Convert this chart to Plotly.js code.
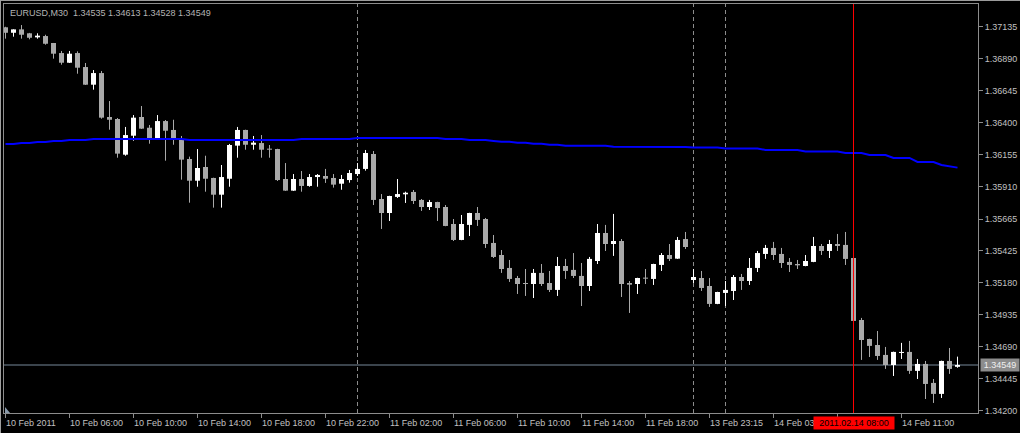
<!DOCTYPE html>
<html>
<head>
<meta charset="utf-8">
<script src="https://cdn.plot.ly/plotly-3.0.1.min.js"></script>
<style>html,body{margin:0;padding:0;background:#000;}#chart{width:1020px;height:433px;}</style>
</head>
<body>
<div id="chart"></div>
<script>
const symbolTitle = "EURUSD,M30  1.34535 1.34613 1.34528 1.34549";

const openP = [1.37131,1.37089,1.37115,1.37085,1.37054,1.37064,1.37011,1.36934,1.36860,1.36934,
1.36827,1.36692,1.36781,1.36445,1.36430,1.36157,1.36302,1.36445,1.36363,1.36279,
1.36414,1.36346,1.36272,1.36124,1.35958,1.36063,1.35979,1.35851,1.35973,1.36226,
1.36346,1.36233,1.36246,1.36203,1.36200,1.35971,1.35882,1.35971,1.35918,1.35986,
1.35994,1.35979,1.35935,1.35963,1.36009,1.36048,1.36162,1.35818,1.35711,1.35834,
1.35854,1.35872,1.35811,1.35757,1.35795,1.35757,1.35627,1.35505,1.35620,1.35711,
1.35665,1.35482,1.35390,1.35291,1.35214,1.35176,1.35168,1.35253,1.35176,1.35123,
1.35306,1.35276,1.35230,1.35153,1.35344,1.35558,1.35474,1.35497,1.35176,1.35168,
1.35217,1.35207,1.35314,1.35390,1.35362,1.35512,1.35199,1.35214,1.35153,1.35016,
1.35100,1.35115,1.35222,1.35191,1.35291,1.35398,1.35444,1.35398,1.35337,1.35321,
1.35306,1.35337,1.35459,1.35421,1.35474,1.35467,1.35367,1.34893,1.34748,1.34702,
1.34626,1.34549,1.34641,1.34649,1.34504,1.34557,1.34412,1.34328,1.34580,1.34535];

const highP = [1.37135,1.37115,1.37148,1.37088,1.37085,1.37074,1.37011,1.36950,1.36950,1.36947,
1.36858,1.36804,1.36797,1.36567,1.36437,1.36369,1.36460,1.36529,1.36384,1.36460,
1.36422,1.36424,1.36300,1.36142,1.36200,1.36149,1.35981,1.36078,1.36239,1.36369,
1.36348,1.36300,1.36307,1.36231,1.36202,1.36093,1.36009,1.36032,1.36009,1.36009,
1.36048,1.36009,1.36002,1.36040,1.36093,1.36193,1.36185,1.35856,1.35843,1.35971,
1.35874,1.35887,1.35818,1.35811,1.35797,1.35772,1.35665,1.35696,1.35713,1.35757,
1.35673,1.35543,1.35428,1.35352,1.35230,1.35283,1.35283,1.35321,1.35268,1.35375,
1.35360,1.35405,1.35329,1.35375,1.35627,1.35620,1.35704,1.35512,1.35191,1.35216,
1.35283,1.35323,1.35405,1.35474,1.35528,1.35566,1.35283,1.35268,1.35214,1.35109,
1.35191,1.35237,1.35245,1.35367,1.35421,1.35467,1.35490,1.35444,1.35367,1.35352,
1.35390,1.35528,1.35474,1.35505,1.35551,1.35566,1.35369,1.34909,1.34750,1.34809,
1.34687,1.34651,1.34718,1.34733,1.34595,1.34580,1.34442,1.34582,1.34679,1.34613];

const lowP = [1.37044,1.37059,1.37044,1.37039,1.37044,1.36998,1.36891,1.36845,1.36858,1.36776,
1.36690,1.36654,1.36432,1.36348,1.36134,1.36149,1.36264,1.36354,1.36241,1.36277,
1.36111,1.36233,1.35966,1.35790,1.35912,1.35874,1.35752,1.35752,1.35912,1.36134,
1.36195,1.36195,1.36134,1.36134,1.35956,1.35880,1.35880,1.35874,1.35912,1.35912,
1.35941,1.35905,1.35889,1.35943,1.35994,1.36035,1.35772,1.35589,1.35650,1.35826,
1.35788,1.35780,1.35727,1.35734,1.35650,1.35610,1.35497,1.35503,1.35535,1.35612,
1.35444,1.35367,1.35253,1.35184,1.35092,1.35077,1.35061,1.35153,1.35107,1.35077,
1.35207,1.35214,1.35000,1.35115,1.35321,1.35421,1.35383,1.35069,1.34947,1.35092,
1.35168,1.35161,1.35268,1.35344,1.35360,1.35436,1.35176,1.35115,1.34993,1.35014,
1.35000,1.35046,1.35123,1.35161,1.35260,1.35360,1.35352,1.35291,1.35260,1.35283,
1.35304,1.35335,1.35390,1.35367,1.35421,1.35314,1.34884,1.34588,1.34610,1.34588,
1.34519,1.34465,1.34595,1.34481,1.34442,1.34289,1.34259,1.34297,1.34481,1.34528];

const closeP = [1.37089,1.37115,1.37074,1.37051,1.37067,1.37005,1.36929,1.36860,1.36929,1.36822,
1.36692,1.36781,1.36440,1.36424,1.36165,1.36307,1.36440,1.36356,1.36279,1.36414,
1.36340,1.36279,1.36119,1.35958,1.36055,1.35973,1.35851,1.35986,1.36231,1.36346,
1.36233,1.36249,1.36195,1.36195,1.35963,1.35882,1.35971,1.35918,1.35986,1.36002,
1.35973,1.35928,1.35971,1.36017,1.36048,1.36170,1.35811,1.35711,1.35841,1.35856,
1.35866,1.35803,1.35757,1.35795,1.35749,1.35612,1.35505,1.35627,1.35711,1.35658,
1.35474,1.35375,1.35283,1.35207,1.35168,1.35168,1.35253,1.35168,1.35123,1.35306,
1.35268,1.35230,1.35153,1.35360,1.35558,1.35474,1.35497,1.35168,1.35163,1.35214,
1.35209,1.35321,1.35390,1.35360,1.35505,1.35451,1.35222,1.35138,1.35016,1.35107,
1.35123,1.35222,1.35191,1.35291,1.35405,1.35444,1.35390,1.35329,1.35314,1.35311,
1.35344,1.35459,1.35421,1.35474,1.35459,1.35360,1.34886,1.34740,1.34695,1.34618,
1.34549,1.34649,1.34649,1.34504,1.34557,1.34404,1.34328,1.34580,1.34519,1.34549];

const maLine = [1.36239,1.36239,1.36246,1.36246,1.36254,1.36254,1.36262,1.36262,1.36269,1.36269,
1.36269,1.36277,1.36277,1.36277,1.36277,1.36277,1.36277,1.36277,1.36277,1.36277,
1.36277,1.36277,1.36277,1.36269,1.36269,1.36269,1.36269,1.36269,1.36269,1.36269,
1.36269,1.36269,1.36269,1.36269,1.36269,1.36269,1.36269,1.36277,1.36277,1.36277,
1.36277,1.36277,1.36277,1.36277,1.36284,1.36284,1.36284,1.36284,1.36284,1.36284,
1.36284,1.36284,1.36284,1.36284,1.36284,1.36277,1.36277,1.36277,1.36269,1.36269,
1.36269,1.36262,1.36256,1.36256,1.36249,1.36249,1.36241,1.36241,1.36233,1.36233,
1.36226,1.36226,1.36226,1.36226,1.36226,1.36226,1.36218,1.36218,1.36218,1.36218,
1.36218,1.36218,1.36216,1.36216,1.36216,1.36216,1.36212,1.36212,1.36212,1.36212,
1.36204,1.36204,1.36204,1.36204,1.36204,1.36193,1.36193,1.36193,1.36193,1.36193,
1.36181,1.36181,1.36181,1.36181,1.36181,1.36170,1.36170,1.36170,1.36155,1.36155,
1.36155,1.36132,1.36132,1.36132,1.36101,1.36101,1.36101,1.36078,1.36066,1.36058];

const priceTicks = [1.37135,1.36890,1.36645,1.36400,1.36155,1.35910,1.35665,1.35425,1.35180,1.34935,1.34690,1.34445,1.34200];
const timeTickBars = [0,8,16,24,32,40,48,56,64,72,80,88,96,104,112];
const timeLabelBars = [0,8,16,24,32,40,48,56,64,72,80,88,96,112];
const timeTickLabels = ["10 Feb 2011","10 Feb 06:00","10 Feb 10:00","10 Feb 14:00","10 Feb 18:00","10 Feb 22:00",
"11 Feb 02:00","11 Feb 06:00","11 Feb 10:00","11 Feb 14:00","11 Feb 18:00","13 Feb 23:15","14 Feb 03","14 Feb 11:00"];
const separatorBars = [44, 86, 90];
const vlineBar = 106;
const vlineLabel = "2011.02.14 08:00";
const bidPrice = 1.34549;

const FONT = "Liberation Sans, Arial, sans-serif";
const BULL = "#ffffff", BEAR = "#a9a9a9";

const idx = openP.map((_, i) => i);
const isBull = idx.map(i => closeP[i] >= openP[i]);

function wicks(bull) {
  const xs = [], ys = [];
  idx.forEach(i => { if (isBull[i] === bull) { xs.push(i, i, null); ys.push(lowP[i], highP[i], null); } });
  return {type: "scatter", mode: "lines", x: xs, y: ys, line: {color: bull ? BULL : BEAR, width: 1}, hoverinfo: "skip", showlegend: false};
}

const bodies = {
  type: "bar", x: idx,
  base: idx.map(i => Math.min(openP[i], closeP[i])),
  y: idx.map(i => Math.max(Math.abs(closeP[i] - openP[i]), 0.00008)),
  width: 0.625,
  marker: {color: idx.map(i => isBull[i] ? BULL : BEAR), line: {width: 0}},
  hoverinfo: "skip", showlegend: false
};

const ma = {type: "scatter", mode: "lines", x: idx, y: maLine, line: {color: "#0000ff", width: 2}, hoverinfo: "skip", showlegend: false};

const shapes = [];
separatorBars.forEach(b => shapes.push({type: "line", xref: "x", yref: "paper", x0: b, x1: b, y0: 0, y1: 1, line: {color: "#8c8c8c", width: 1, dash: "4px,3px"}, layer: "below"}));
shapes.push({type: "line", xref: "x", yref: "paper", x0: vlineBar, x1: vlineBar, y0: 0, y1: 1, line: {color: "#ff0000", width: 1}});
shapes.push({type: "line", xref: "paper", yref: "y", x0: 0, x1: 1, y0: bidPrice, y1: bidPrice, line: {color: "#778899", width: 1}, layer: "below"});
// window frame
shapes.push({type: "line", xref: "paper", yref: "paper", x0: -0.005, x1: 1.05, y0: 1.0086, y1: 1.0086, line: {color: "#a0a0a0", width: 1}});
shapes.push({type: "line", xref: "paper", yref: "paper", x0: -0.0036, x1: -0.0036, y0: -0.06, y1: 1.01, line: {color: "#a0a0a0", width: 1}});
shapes.push({type: "path", xref: "paper", yref: "paper", path: "M 0.0010 0.0147 L 0.0010 0 L 0.0062 0 Z", fillcolor: "#8899aa", line: {width: 0}});

const annotations = [];
annotations.push({xref: "paper", yref: "paper", x: 0.0045, y: 0.979, xanchor: "left", yanchor: "middle", text: symbolTitle, showarrow: false, font: {family: FONT, size: 9, color: "#b4b4b4"}});
timeLabelBars.forEach((b, i) => annotations.push({xref: "x", yref: "paper", x: b, y: -0.0235, xanchor: "left", yanchor: "middle", xshift: -1.5, text: timeTickLabels[i], showarrow: false, font: {family: FONT, size: 9, color: "#c0c0c0"}}));
annotations.push({xref: "x", yref: "paper", x: vlineBar, y: -0.0235, xanchor: "center", yanchor: "middle", text: vlineLabel, showarrow: false, width: 78, height: 10, bgcolor: "#ff0000", borderpad: 1, font: {family: FONT, size: 9, color: "#000000"}});
annotations.push({xref: "paper", yref: "y", x: 1, y: bidPrice, xanchor: "left", yanchor: "middle", xshift: 2, text: bidPrice.toFixed(5), showarrow: false, width: 36, height: 10, bgcolor: "#8c8c8c", borderpad: 1, font: {family: FONT, size: 9, color: "#f0f0f0"}});

const layout = {
  width: 1020, height: 433,
  paper_bgcolor: "#000000", plot_bgcolor: "#000000",
  margin: {l: 4, r: 42, t: 4, b: 20, pad: 0},
  showlegend: false, barmode: "overlay",
  font: {family: FONT, size: 9, color: "#c0c0c0"},
  xaxis: {range: [-0.1875, 121.5625], showgrid: false, zeroline: false, showline: true, mirror: true, linecolor: "#8c8c8c", linewidth: 1,
          ticks: "outside", ticklen: 4, tickcolor: "#8c8c8c", tickvals: timeTickBars, showticklabels: false, fixedrange: true},
  yaxis: {range: [1.34182, 1.37309], side: "right", showgrid: false, zeroline: false, showline: true, mirror: true, linecolor: "#8c8c8c", linewidth: 1,
          ticks: "outside", ticklen: 4, tickcolor: "#8c8c8c", tickvals: priceTicks, ticktext: priceTicks.map(v => v.toFixed(5)),
          tickfont: {family: FONT, size: 9, color: "#c0c0c0"}, fixedrange: true},
  shapes: shapes, annotations: annotations
};

Plotly.newPlot("chart", [wicks(true), wicks(false), bodies, ma], layout, {staticPlot: true, displayModeBar: false});
</script>
</body>
</html>
